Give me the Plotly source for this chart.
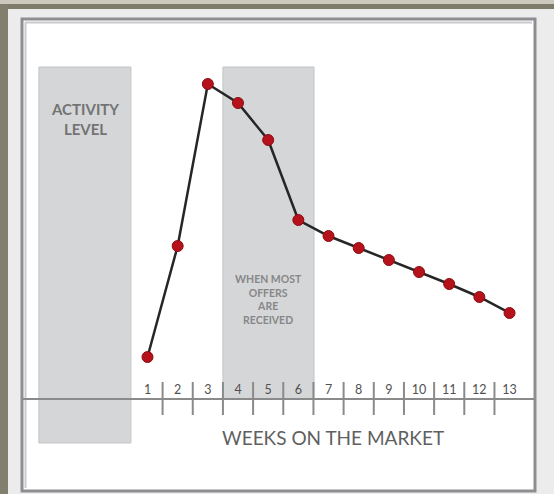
import plotly.graph_objects as go

# ---- data ----
weeks = [1, 2, 3, 4, 5, 6, 7, 8, 9, 10, 11, 12, 13]
activity = [42, 153, 315, 296, 259, 179, 163, 151, 139, 127, 115, 102, 86]
week_labels = ["1", "2", "3", "4", "5", "6", "7", "8", "9", "10", "11", "12", "13"]
tick_marks = [1.5, 2.5, 3.5, 4.5, 5.5, 6.5, 7.5, 8.5, 9.5, 10.5, 11.5, 12.5]

W, H = 554, 494
AXIS_PX = 399  # pixel row of the horizontal axis line


def px_x(p):
    return p / W


def px_y(p):
    return 1 - p / H


fig = go.Figure()

fig.add_trace(go.Scatter(
    x=weeks, y=activity, mode="lines+markers",
    line=dict(color="#262626", width=2.5),
    marker=dict(size=11, color="#b5121b", line=dict(color="#8c0c12", width=1)),
    hoverinfo="skip", showlegend=False,
))

shapes = []
# outer photo frame
shapes.append(dict(type="rect", xref="paper", yref="paper", x0=0, x1=1, y0=px_y(9), y1=1,
                   fillcolor="#7f7b6b", line=dict(width=0), layer="below"))
shapes.append(dict(type="rect", xref="paper", yref="paper", x0=0, x1=1, y0=px_y(4), y1=1,
                   fillcolor="#ccc8bb", line=dict(width=0), layer="below"))
shapes.append(dict(type="rect", xref="paper", yref="paper", x0=0, x1=px_x(8), y0=0, y1=px_y(4),
                   fillcolor="#837f6f", line=dict(width=0), layer="below"))
# inner white chart panel
shapes.append(dict(type="rect", xref="paper", yref="paper", x0=px_x(22), x1=px_x(535),
                   y0=px_y(491), y1=px_y(19), fillcolor="#ffffff",
                   line=dict(color="#8d8d92", width=3), layer="below"))
shapes.append(dict(type="line", xref="paper", yref="paper", x0=px_x(25), x1=px_x(532),
                   y0=px_y(22.5), y1=px_y(22.5), line=dict(color="#c9c9ce", width=2), layer="below"))
shapes.append(dict(type="line", xref="paper", yref="paper", x0=px_x(25.5), x1=px_x(25.5),
                   y0=px_y(488), y1=px_y(22), line=dict(color="#c9c9ce", width=2), layer="below"))
# shaded bands
shapes.append(dict(type="rect", xref="x", yref="y", x0=-2.6, x1=0.45, y0=-44, y1=332,
                   fillcolor="#d5d6d8", line=dict(color="#c3c4c7", width=1), layer="below"))
shapes.append(dict(type="rect", xref="x", yref="y", x0=3.5, x1=6.52, y0=0, y1=332,
                   fillcolor="#d5d6d8", line=dict(color="#c3c4c7", width=1), layer="below"))
# week separator ticks crossing the axis
for t in tick_marks:
    shapes.append(dict(type="line", xref="x", yref="y", x0=t, x1=t, y0=-16, y1=17,
                       line=dict(color="#8a8a8a", width=2), layer="above"))

annotations = [
    dict(x=-1.07, y=280, xref="x", yref="y", text="ACTIVITY<br>LEVEL", showarrow=False,
         font=dict(family="Lato", size=15, color="#737373", weight="bold")),
    dict(x=5.01, y=100, xref="x", yref="y", text="WHEN MOST<br>OFFERS<br>ARE<br>RECEIVED",
         showarrow=False, font=dict(family="Lato", size=10.5, color="#878787", weight="bold")),
    dict(x=7.15, y=-38, xref="x", yref="y", text="WEEKS ON THE MARKET", showarrow=False,
         font=dict(family="Lato", size=19, color="#5f5f5f")),
]

x0w = 1 + (22 - 147.5) / 30.17
x1w = 1 + (535 - 147.5) / 30.17

fig.update_layout(
    width=W, height=H,
    margin=dict(l=0, r=0, t=0, b=0),
    paper_bgcolor="#ececec",
    plot_bgcolor="rgba(0,0,0,0)",
    shapes=shapes,
    annotations=annotations,
    xaxis=dict(
        domain=[px_x(22), px_x(535)], range=[x0w, x1w],
        anchor="free", position=px_y(AXIS_PX), side="top",
        tickmode="array", tickvals=weeks, ticktext=week_labels,
        showline=False, showgrid=False, zeroline=False, ticks="",
        ticklabelstandoff=3,
        tickfont=dict(family="Lato", size=12.5, color="#505050"),
    ),
    yaxis=dict(
        domain=[0, 1], range=[AXIS_PX - H, AXIS_PX],
        showticklabels=False, showgrid=False, ticks="", showline=False,
        zeroline=True, zerolinecolor="#8a8a8a", zerolinewidth=2,
    ),
)

fig.write_html("out.html")
